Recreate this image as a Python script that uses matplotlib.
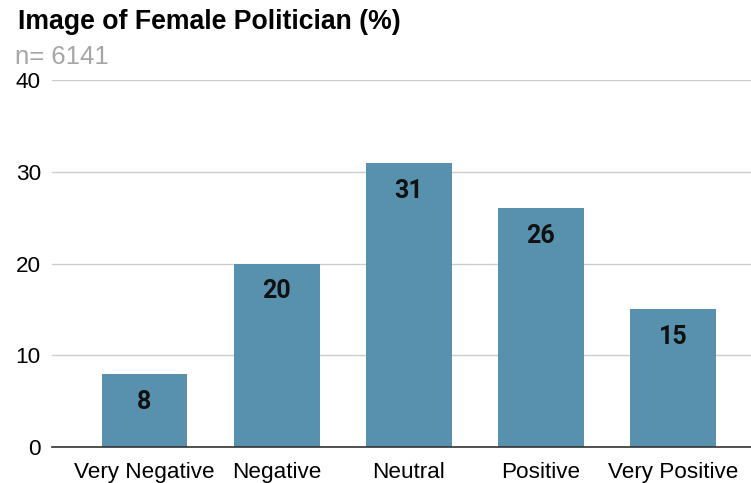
import matplotlib.pyplot as plt

categories = ["Very Negative", "Negative", "Neutral", "Positive", "Very Positive"]
values = [8, 20, 31, 26, 15]
y_ticks = [0, 10, 20, 30, 40]

BAR_COLOR = "#5891ad"

plt.rcParams["font.family"] = ["Liberation Sans", "DejaVu Sans"]

fig = plt.figure(figsize=(7.51, 4.83), dpi=100)
ax = fig.add_axes([52 / 751, 1 - 447 / 483, 1 - 52 / 751, (447 - 80) / 483])

x = range(len(categories))
bars = ax.bar(x, values, width=0.65, color=BAR_COLOR, zorder=2)

# value labels sit just inside the top of each bar
for rect, v in zip(bars, values):
    ax.annotate(f"{v}", (rect.get_x() + rect.get_width() / 2, v),
                xytext=(0, -28), textcoords="offset pixels",
                ha="center", va="center", fontsize=18, fontweight="bold",
                family=["Roboto", "DejaVu Sans"], color="#111111", zorder=3)

ax.set_xlim(-0.7, 4.59)
ax.set_ylim(0, 40)
ax.set_yticks(y_ticks)
ax.set_xticks(list(x))
ax.set_xticklabels(categories, fontsize=16.2)
ax.tick_params(axis="y", labelsize=16.2, length=0, pad=8)
ax.tick_params(axis="x", length=0, pad=11)

ax.grid(axis="y", color="#cccccc", linewidth=1, zorder=0)
for side in ("top", "right", "left"):
    ax.spines[side].set_visible(False)
ax.spines["bottom"].set_color("#333333")
ax.spines["bottom"].set_linewidth(1.2)
ax.spines["bottom"].set_zorder(4)

fig.text(18 / 751, 1 - 22 / 483, "Image of Female Politician (%)",
         fontsize=19.2, fontweight="bold", ha="left", va="center")
fig.text(15 / 751, 1 - 57 / 483, "n= 6141", fontsize=18.5, color="#a6a6a6",
         ha="left", va="center")

fig.savefig("out.png", dpi=100)
